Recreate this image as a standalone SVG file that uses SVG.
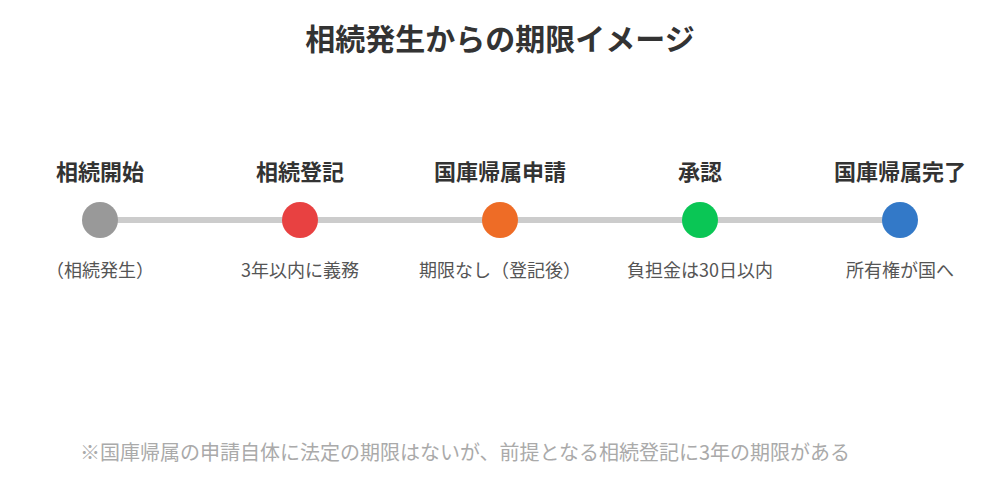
<svg xmlns="http://www.w3.org/2000/svg" width="1000" height="500" viewBox="0 0 1000 500">
<style>
text{font-family:"Noto Sans CJK JP","Noto Sans",sans-serif}
.t{font-size:30px;font-weight:bold;fill:#333;text-anchor:middle}
.l{font-size:22px;font-weight:bold;fill:#333;text-anchor:middle}
.s{font-size:18px;fill:#555;text-anchor:middle}
.f{font-size:20px;fill:#aaa}
</style>
<rect width="1000" height="500" fill="#fff"/>
<text class="t" x="500" y="50">相続発生からの期限イメージ</text>
<g id="connectors"><line x1="100" y1="220" x2="900" y2="220" stroke="#ccc" stroke-width="6"/></g>
<g id="n1"><text class="l" x="100" y="180">相続開始</text><circle cx="100" cy="220" r="18" fill="#999"/><text class="s" x="100" y="277">（相続発生）</text></g>
<g id="n2"><text class="l" x="300" y="180">相続登記</text><circle cx="300" cy="220" r="18" fill="#E84141"/><text class="s" x="300" y="277">3年以内に義務</text></g>
<g id="n3"><text class="l" x="500" y="180">国庫帰属申請</text><circle cx="500" cy="220" r="18" fill="#EE6C26"/><text class="s" x="500" y="277">期限なし（登記後）</text></g>
<g id="n4"><text class="l" x="700" y="180">承認</text><circle cx="700" cy="220" r="18" fill="#0AC655"/><text class="s" x="700" y="277">負担金は30日以内</text></g>
<g id="n5"><text class="l" x="900" y="180">国庫帰属完了</text><circle cx="900" cy="220" r="18" fill="#3379C8"/><text class="s" x="900" y="277">所有権が国へ</text></g>
<text class="f" x="80" y="460">※国庫帰属の申請自体に法定の期限はないが、前提となる相続登記に3年の期限がある</text>
</svg>
